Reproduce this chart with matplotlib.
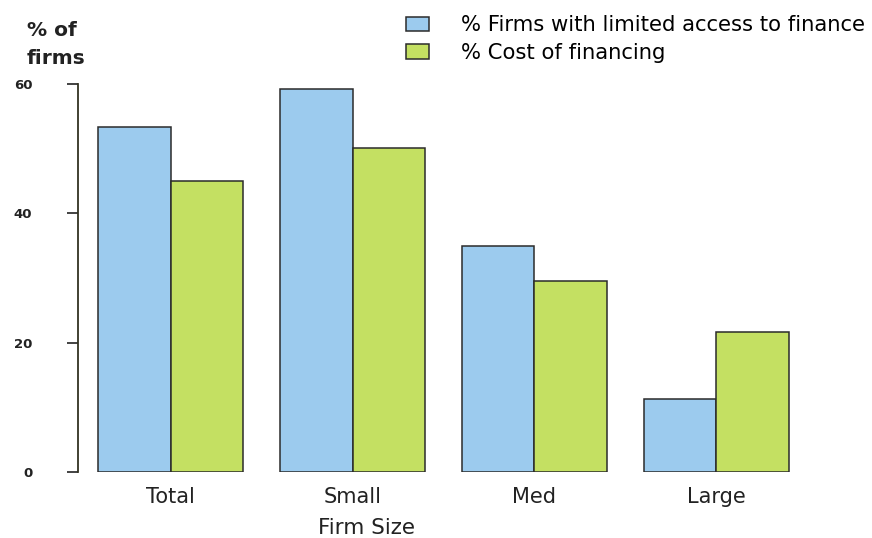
import numpy as np
import matplotlib.pyplot as plt

plt.rcParams['font.family'] = ['DejaVu Sans']

categories = ['Total', 'Small', 'Med', 'Large']
limited_access = [53.3, 59.2, 34.9, 11.3]
cost_financing = [45.0, 50.1, 29.6, 21.7]
yticks = [0, 20, 40, 60]

blue = '#9ccbee'
green = '#c4e062'
edge = '#2b2b2b'

fig = plt.figure(figsize=(8.72, 5.38), dpi=100)
ax = fig.add_axes([78 / 872, 66 / 538, (860 - 78) / 872, 388 / 538])

x = np.arange(len(categories))
w = 0.4
b1 = ax.bar(x - w / 2, limited_access, w, color=blue, edgecolor=edge, linewidth=1.1,
            label='% Firms with limited access to finance')
b2 = ax.bar(x + w / 2, cost_financing, w, color=green, edgecolor=edge, linewidth=1.1,
            label='% Cost of financing')

ax.set_xlim(-0.51, 3.79)
ax.set_ylim(0, 60)
ax.set_yticks(yticks)
ax.set_yticklabels([str(t) for t in yticks], fontsize=9.5, fontweight='bold', color='#222222')
ax.tick_params(axis='y', direction='out', length=8, width=1.2, pad=25, colors='#222222')
ax.set_xticks(x)
ax.set_xticklabels(categories, fontsize=15, color='#222222')
ax.tick_params(axis='x', length=0, pad=11)

for s in ['top', 'right', 'bottom']:
    ax.spines[s].set_visible(False)
ax.spines['left'].set_linewidth(1.3)
ax.spines['left'].set_color('#333322')

fig.text(27 / 872, 1 - 45 / 538, '% of\nfirms', fontsize=14.5, fontweight='bold',
         color='#222222', va='center', ha='left', linespacing=1.6)
fig.text(366 / 872, 1 - 528 / 538, 'Firm Size', fontsize=15.5, color='#222222',
         ha='center', va='center')

fig.legend(handles=[b1, b2], loc='upper left', bbox_to_anchor=(398 / 872, 1 - 7 / 538),
           frameon=False, fontsize=15.2, handlelength=1.05, handleheight=0.7,
           handletextpad=1.55, labelspacing=0.35, borderaxespad=0)

fig.savefig('out.png', dpi=100)
